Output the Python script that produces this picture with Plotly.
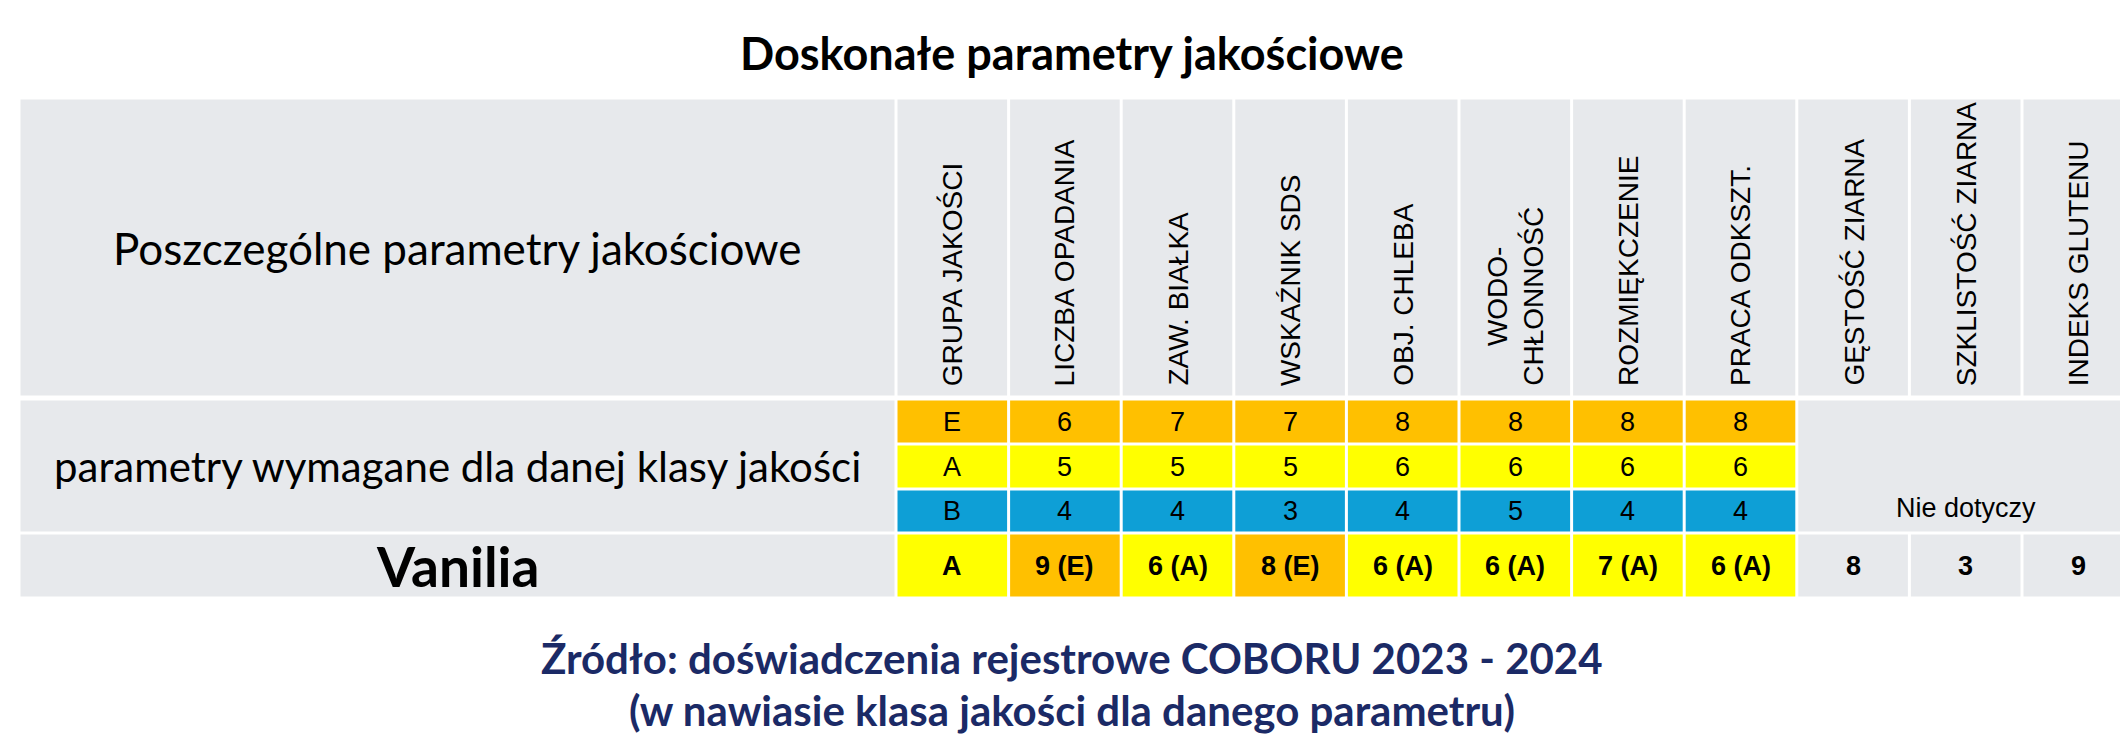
import plotly.graph_objects as go

title = "Doskonałe parametry jakościowe"
params = ["GRUPA JAKOŚCI", "LICZBA OPADANIA", "ZAW. BIAŁKA", "WSKAŹNIK SDS",
          "OBJ. CHLEBA", "WODO-<br>CHŁONNOŚĆ", "ROZMIĘKCZENIE", "PRACA ODKSZT.",
          "GĘSTOŚĆ ZIARNA", "SZKLISTOŚĆ ZIARNA", "INDEKS GLUTENU"]
req_classes = ["E", "A", "B"]
req_values = [["E", "6", "7", "7", "8", "8", "8", "8"],
              ["A", "5", "5", "5", "6", "6", "6", "6"],
              ["B", "4", "4", "3", "4", "5", "4", "4"]]
variety = "Vanilia"
variety_values = ["A", "9 (E)", "6 (A)", "8 (E)", "6 (A)", "6 (A)", "7 (A)", "6 (A)", "8", "3", "9"]
variety_classes = ["A", "E", "A", "E", "A", "A", "A", "A", None, None, None]
na_text = "Nie dotyczy"
footer = ["Źródło: doświadczenia rejestrowe COBORU 2023 - 2024",
          "(w nawiasie klasa jakości dla danego parametru)"]

colors = {"E": "#FFC000", "A": "#FFFF00", "B": "#0E9FD6", None: "#E7E9EC"}
GRAY = "#E7E9EC"
NAVY = "#1B2A66"

# layout grid (pixels)
x0, xl, cw = 11, 888, 112.6
hy0, hy1 = 90, 389
ry = [391, 436, 481, 525]
vy0, vy1 = 525, 590
g = 1.5

fig = go.Figure()
shapes, ann = [], []


def cell(xa, xb, ya, yb, color):
    shapes.append(dict(type="rect", xref="x", yref="y", x0=xa + g, x1=xb - g,
                       y0=ya + g, y1=yb - g, fillcolor=color, line_width=0, layer="below"))


def text(x, y, s, size, bold=False, font="Liberation Sans", color="black", **kw):
    ann.append(dict(x=x, y=y, xref="x", yref="y", text=f"<b>{s}</b>" if bold else s,
                    showarrow=False, font=dict(size=size, family=font, color=color), **kw))


# header row
cell(x0, xl, hy0, hy1, GRAY)
text((x0 + xl) / 2, (hy0 + hy1) / 2, "Poszczególne parametry jakościowe", 44, font="Lato")
for i, p in enumerate(params):
    xa = xl + i * cw
    cell(xa, xa + cw, hy0, hy1, GRAY)
    text(xa + cw / 2, 380, p, 28, textangle=-90, yanchor="bottom", xanchor="center")

# required parameters
cell(x0, xl, ry[0], ry[3], GRAY)
text((x0 + xl) / 2, (ry[0] + ry[3]) / 2, "parametry wymagane dla danej klasy jakości", 42, font="Lato")
for r, cls in enumerate(req_classes):
    for i, v in enumerate(req_values[r]):
        xa = xl + i * cw
        cell(xa, xa + cw, ry[r], ry[r + 1], colors[cls])
        text(xa + cw / 2, (ry[r] + ry[r + 1]) / 2, v, 27)
xn = xl + 8 * cw
cell(xn, xl + 11 * cw, ry[0], ry[3], GRAY)
text((xn + xl + 11 * cw) / 2, 500, na_text, 27)

# variety row
cell(x0, xl, vy0, vy1, GRAY)
text((x0 + xl) / 2, (vy0 + vy1) / 2, variety, 55, bold=True, font="Lato")
for i, v in enumerate(variety_values):
    xa = xl + i * cw
    cell(xa, xa + cw, vy0, vy1, colors[variety_classes[i]])
    text(xa + cw / 2, (vy0 + vy1) / 2, v, 27, bold=True)

text(1064, 45, title, 45, bold=True, font="Lato")
text(1064, 650, footer[0], 42, bold=True, font="Lato", color=NAVY)
text(1064, 702, footer[1], 42, bold=True, font="Lato", color=NAVY)

fig.update_layout(width=2128, height=746, margin=dict(l=0, r=0, t=0, b=0),
                  plot_bgcolor="white", paper_bgcolor="white",
                  shapes=shapes, annotations=ann, showlegend=False)
fig.update_xaxes(range=[0, 2128], visible=False, fixedrange=True)
fig.update_yaxes(range=[746, 0], visible=False, fixedrange=True)

fig.write_html("out.html")
